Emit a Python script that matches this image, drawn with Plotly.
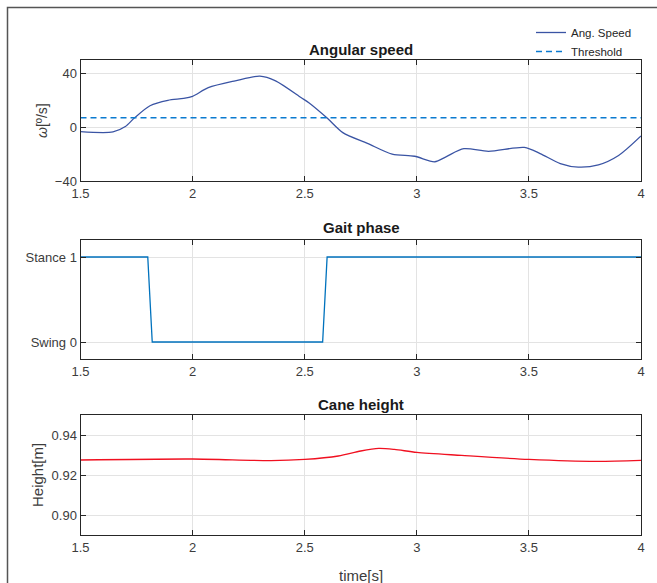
import plotly.graph_objects as go

# ---- data ----
t_speed = [1.5, 1.645, 1.70, 1.74, 1.81, 1.89, 1.96, 2.0, 2.07, 2.19, 2.30, 2.37, 2.485, 2.52,
           2.60, 2.67, 2.78, 2.89, 2.99, 3.08, 3.13, 3.21, 3.32, 3.48, 3.55, 3.64, 3.72, 3.81, 3.90, 4.0]
ang_speed = [-3.3, -3.5, 0.5, 6.8, 16, 20, 21.4, 23, 29.4, 34.5, 38, 34.5, 21.9, 18,
             6.8, -4, -12, -20, -21.6, -25.7, -22, -16, -17.9, -15, -19.6, -27, -29.7, -28, -21, -6.5]
threshold = 7.0

t_phase = [1.5, 1.8, 1.82, 2.58, 2.6, 4.0]
gait_phase = [1, 1, 0, 0, 1, 1]
phase_ticks = [0, 1]
phase_labels = ["Swing 0", "Stance 1"]

t_height = [1.5, 2.0, 2.35, 2.5, 2.65, 2.75, 2.83, 2.9, 3.0, 3.2, 3.5, 3.8, 4.0]
cane_height = [0.9275, 0.928, 0.9272, 0.9278, 0.9295, 0.932, 0.9333, 0.9328, 0.9313, 0.9298, 0.9278, 0.9268, 0.9273]

x_ticks = [1.5, 2, 2.5, 3, 3.5, 4]
x_labels = ["1.5", "2", "2.5", "3", "3.5", "4"]

W, H = 657, 583
FONT = "Liberation Sans, Arial, sans-serif"
AX = "#262626"
TXT = "#3c3c3c"
GRID = "#e3e3e3"

def px(x):
    return x / W

def py(y):
    return 1 - y / H

fig = go.Figure()
fig.add_trace(go.Scatter(x=t_speed, y=ang_speed, mode="lines", name="Ang. Speed",
                         line=dict(color="#3a54a4", width=1.3, shape="spline", smoothing=0.8),
                         xaxis="x", yaxis="y"))
fig.add_trace(go.Scatter(x=[t_speed[0], t_speed[-1]], y=[threshold, threshold], mode="lines", name="Threshold",
                         line=dict(color="#0a7ad0", width=1.4, dash="6px,4px"),
                         xaxis="x", yaxis="y"))
fig.add_trace(go.Scatter(x=t_phase, y=gait_phase, mode="lines", showlegend=False,
                         line=dict(color="#0072bd", width=1.3), xaxis="x2", yaxis="y2"))
fig.add_trace(go.Scatter(x=t_height, y=cane_height, mode="lines", showlegend=False,
                         line=dict(color="#f01020", width=1.3, shape="spline", smoothing=0.8),
                         xaxis="x3", yaxis="y3"))

xdom = [px(80.5), px(641)]
common_x = dict(range=[1.5, 4], tickvals=x_ticks, ticktext=x_labels, showline=True, mirror="ticks",
                linecolor=AX, linewidth=1, ticks="inside", ticklen=5, tickcolor=AX,
                showgrid=True, gridcolor=GRID, zeroline=False, domain=xdom, automargin=False,
                tickfont=dict(family=FONT, size=13, color=TXT))
common_y = dict(showline=True, mirror="ticks", linecolor=AX, linewidth=1, ticks="inside", ticklen=5,
                tickcolor=AX, showgrid=True, gridcolor=GRID, zeroline=False, automargin=False,
                tickfont=dict(family=FONT, size=13, color=TXT))

fig.update_layout(
    width=W, height=H, margin=dict(l=0, r=0, t=0, b=0, autoexpand=False),
    paper_bgcolor="white", plot_bgcolor="white",
    xaxis=dict(common_x, anchor="y"),
    yaxis=dict(common_y, range=[-40, 50], tickvals=[-40, 0, 40], domain=[py(181), py(60)], anchor="x"),
    xaxis2=dict(common_x, anchor="y2"),
    yaxis2=dict(common_y, range=[-0.2, 1.2], tickvals=phase_ticks, ticktext=phase_labels,
                domain=[py(359), py(240)], anchor="x2"),
    xaxis3=dict(common_x, anchor="y3"),
    yaxis3=dict(common_y, range=[0.89, 0.95], tickvals=[0.90, 0.92, 0.94], tickformat=".2f",
                domain=[py(535), py(415)], anchor="x3"),
    legend=dict(x=px(531), y=py(18), xanchor="left", yanchor="top", bgcolor="rgba(0,0,0,0)",
                font=dict(family=FONT, size=11.5, color=AX), tracegroupgap=0, itemwidth=30),
    showlegend=True,
)

titles = [("Angular speed", 49), ("Gait phase", 228), ("Cane height", 404)]
for txt, y in titles:
    fig.add_annotation(text="<b>" + txt + "</b>", x=px(361), y=py(y), xref="paper", yref="paper",
                       showarrow=False, font=dict(family=FONT, size=15, color="#1a1a1a"),
                       xanchor="center", yanchor="middle")

fig.add_annotation(text="<i>ω</i>[º/s]", x=px(42), y=py(121), xref="paper", yref="paper", showarrow=False,
                   textangle=-90, font=dict(family=FONT, size=14, color=TXT), xanchor="center", yanchor="middle")
fig.add_annotation(text="Height[m]", x=px(37), y=py(475), xref="paper", yref="paper", showarrow=False,
                   textangle=-90, font=dict(family=FONT, size=15, color=TXT), xanchor="center", yanchor="middle")
fig.add_annotation(text="time[s]", x=px(361), y=py(575), xref="paper", yref="paper", showarrow=False,
                   font=dict(family=FONT, size=15, color=TXT), xanchor="center", yanchor="middle")

fig.add_shape(type="rect", xref="paper", yref="paper", x0=px(7.5), y0=-0.05, x1=1.05, y1=py(7.5),
              line=dict(color="#555555", width=1.5), fillcolor="rgba(0,0,0,0)", layer="below")

fig.write_html("out.html")
